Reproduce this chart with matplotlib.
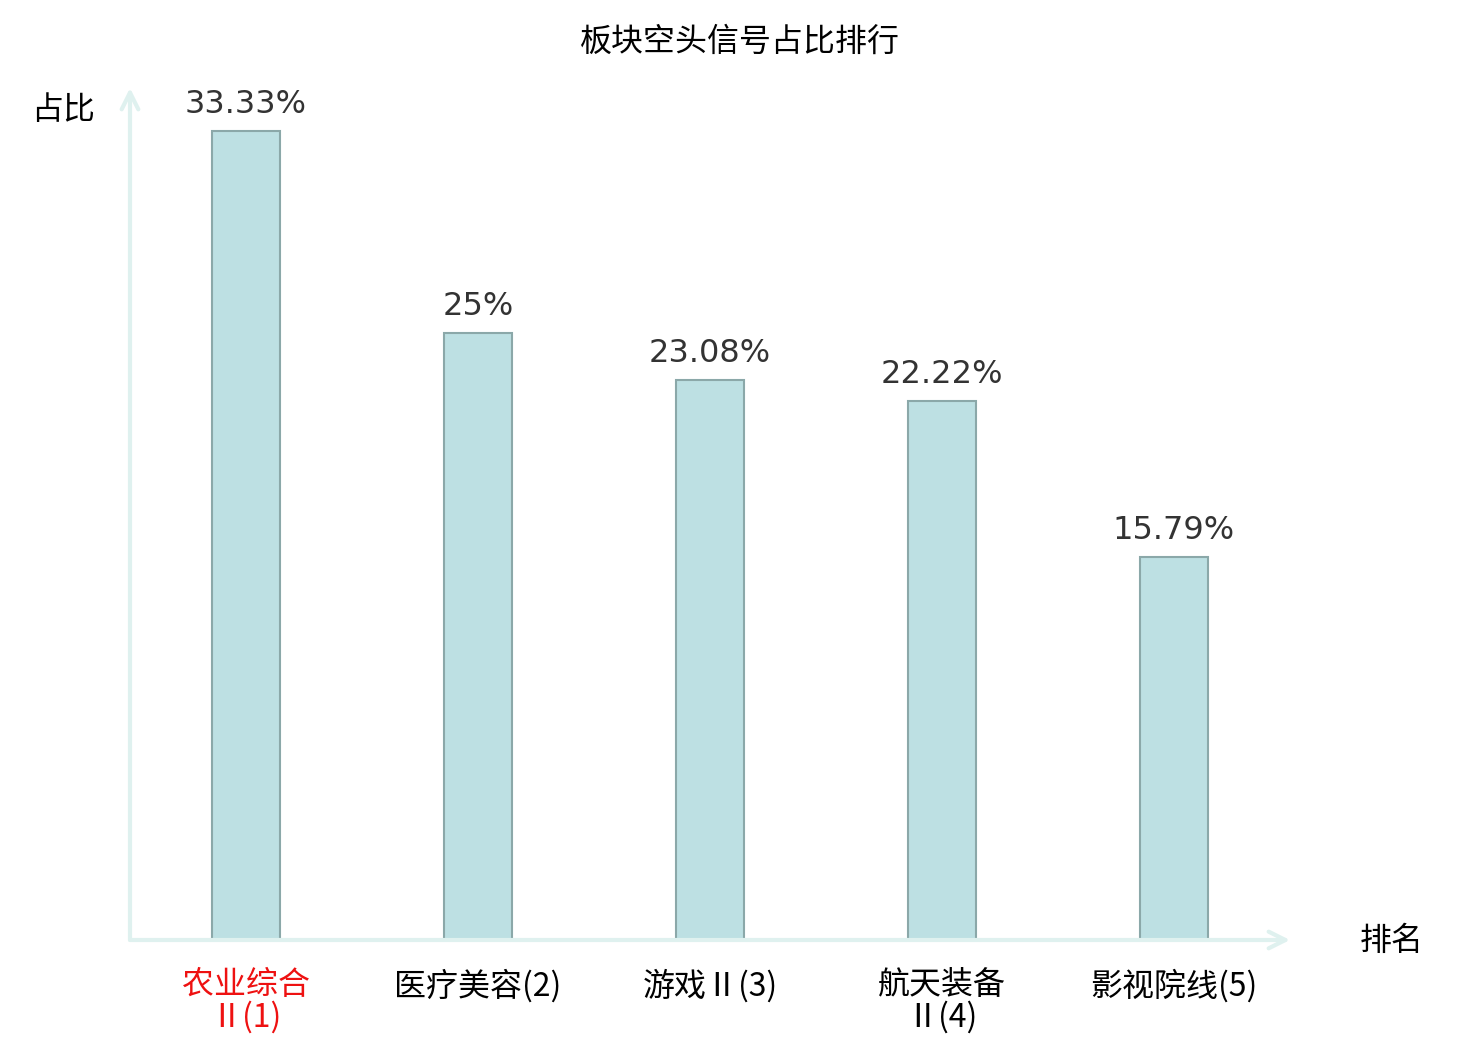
import matplotlib
matplotlib.use("Agg")
import matplotlib.pyplot as plt

#_________________________________________
# DATA
#_________________________________________
categories = ['农业综合\nⅡ(1)', '医疗美容(2)', '游戏Ⅱ(3)', '航天装备\nⅡ(4)', '影视院线(5)']
values = [33.33, 25, 23.08, 22.22, 15.79]
value_labels = ['33.33%', '25%', '23.08%', '22.22%', '15.79%']

#_________________________________________
# STYLE
#_________________________________________
cjk = ['Noto Sans CJK SC', 'DejaVu Sans']
plt.rcParams['font.family'] = cjk
bar_color = '#bde0e3'
edge_color = '#8ba8a9'
axis_color = '#dff1ef'
font_size = 23

fig = plt.figure(figsize=(14.8, 10.4), dpi=100)
ax = fig.add_axes([130/1480, 100/1040, 1160/1480, 852/1040])

x = list(range(len(categories)))
bars = ax.bar(x, values, width=0.293, color=bar_color, edgecolor=edge_color, linewidth=1.5, zorder=2)

for xi, v, lab in zip(x, values, value_labels):
    ax.annotate(lab, (xi, v), xytext=(0, 8), textcoords='offset points',
                ha='center', va='bottom', fontsize=font_size, color='#333333',
                family='DejaVu Sans')

ax.set_xlim(-0.5, 4.5)
ax.set_ylim(0, 35.1)
for s in ax.spines.values():
    s.set_visible(False)
ax.set_yticks([])
ax.set_xticks(x)
ax.set_xticklabels(categories, fontsize=font_size, linespacing=1.0)
ax.tick_params(axis='x', length=0, pad=21)
ax.get_xticklabels()[0].set_color('#ee1111')

# axis lines with open arrow heads
arrow = dict(arrowstyle='->', color=axis_color, lw=3, mutation_scale=30, shrinkA=0, shrinkB=0)
ax.annotate('', xy=(1.0, 0), xytext=(0, 0), xycoords='axes fraction', arrowprops=arrow, annotation_clip=False)
ax.annotate('', xy=(0, 1.0), xytext=(0, 0), xycoords='axes fraction', arrowprops=arrow, annotation_clip=False)

fig.text(63/1480, 1 - 110/1040, '占比', ha='center', va='center', fontsize=font_size)
fig.text(1392/1480, 1 - 941/1040, '排名', ha='center', va='center', fontsize=font_size)
fig.text(740/1480, 1 - 42/1040, '板块空头信号占比排行', ha='center', va='center', fontsize=font_size)

plt.savefig('out.png', dpi=100)
